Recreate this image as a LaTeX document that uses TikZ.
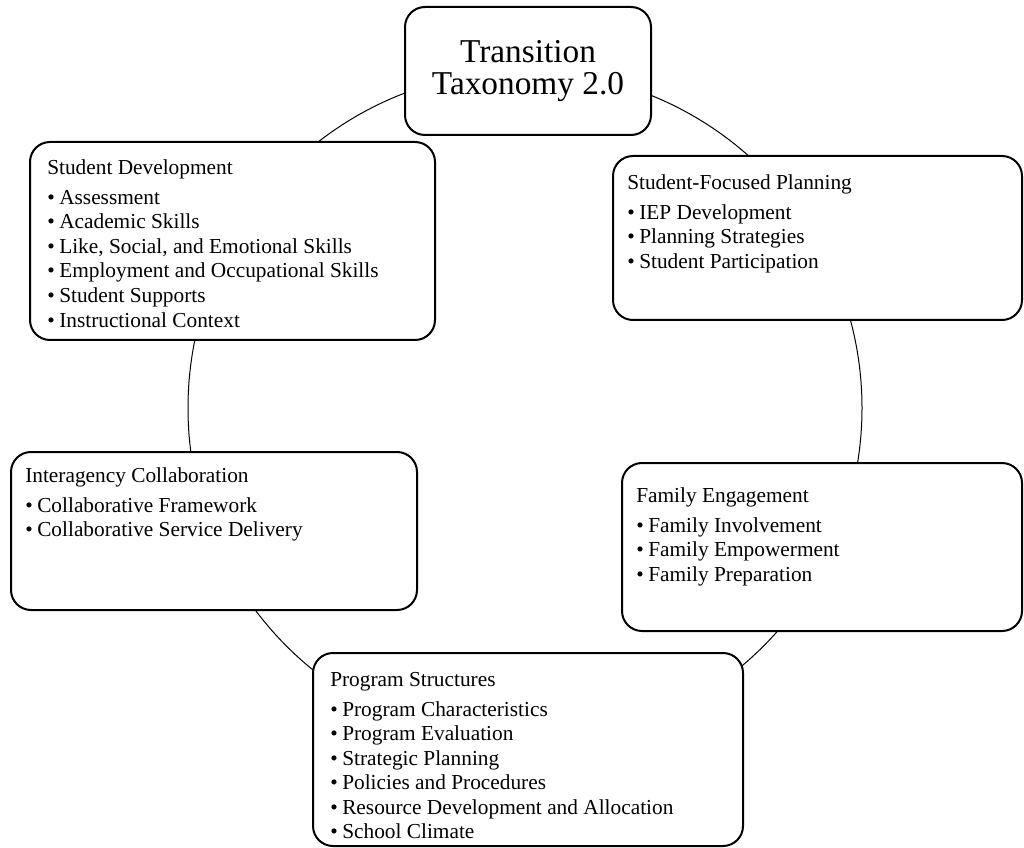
\documentclass[tikz,border=0pt]{standalone}
\usepackage{fontspec}
\setmainfont{Liberation Serif}
\usetikzlibrary{positioning}
\newcommand{\bitem}[1]{\makebox[9pt][l]{\textbullet}#1}

\begin{document}
\begin{tikzpicture}[
    x=0.75pt, y=-0.75pt,
    catbox/.style={
        rectangle, rounded corners=15pt, draw=black, line width=1.5pt,
        fill=white, inner sep=0pt
      },
    cattext/.style={
        inner sep=0pt, align=left, font=\fontsize{16}{18.4}\selectfont
      },
  ]
  \useasboundingbox (0,0) rectangle (1024,848);
  \coordinate (hub) at (525,408);
  \draw[line width=0.75pt] (hub) circle[radius=252.75pt];

  \node[catbox, minimum width=184.5pt, minimum height=96pt, align=center,
    font=\fontsize{25}{24}\selectfont] (tt) at (528,71) {Transition\\Taxonomy 2.0};

  \node[catbox, minimum width=303.75pt, minimum height=148.5pt] (sd) at (232.5,241) {};
  \node[cattext, below right=13.8pt and 13.5pt of sd.north west] (sdlist) {Student Development\\[4pt]
    \bitem{Assessment}\\
    \bitem{Academic Skills}\\
    \bitem{Like, Social, and Emotional Skills}\\
    \bitem{Employment and Occupational Skills}\\
    \bitem{Student Supports}\\
    \bitem{Instructional Context}};

  \node[catbox, minimum width=306.75pt, minimum height=123pt] (sfp) at (817.5,238) {};
  \node[cattext, below right=14.5pt and 11.25pt of sfp.north west] (sfplist) {Student-Focused Planning\\[4pt]
    \bitem{IEP Development}\\
    \bitem{Planning Strategies}\\
    \bitem{Student Participation}};

  \node[catbox, minimum width=304.5pt, minimum height=118.5pt] (ia) at (214,531) {};
  \node[cattext, below right=12.3pt and 11.25pt of ia.north west] (ialist) {Interagency Collaboration\\[4pt]
    \bitem{Collaborative Framework}\\
    \bitem{Collaborative Service Delivery}};

  \node[catbox, minimum width=300pt, minimum height=126pt] (fe) at (822,547) {};
  \node[cattext, below right=19pt and 11.25pt of fe.north west] (felist) {Family Engagement\\[4pt]
    \bitem{Family Involvement}\\
    \bitem{Family Empowerment}\\
    \bitem{Family Preparation}};

  \node[catbox, minimum width=322.5pt, minimum height=144.75pt] (ps) at (528,749.5) {};
  \node[cattext, below right=15pt and 13.5pt of ps.north west] (pslist) {Program Structures\\[4pt]
    \bitem{Program Characteristics}\\
    \bitem{Program Evaluation}\\
    \bitem{Strategic Planning}\\
    \bitem{Policies and Procedures}\\
    \bitem{Resource Development and Allocation}\\
    \bitem{School Climate}};
\end{tikzpicture}
\end{document}
